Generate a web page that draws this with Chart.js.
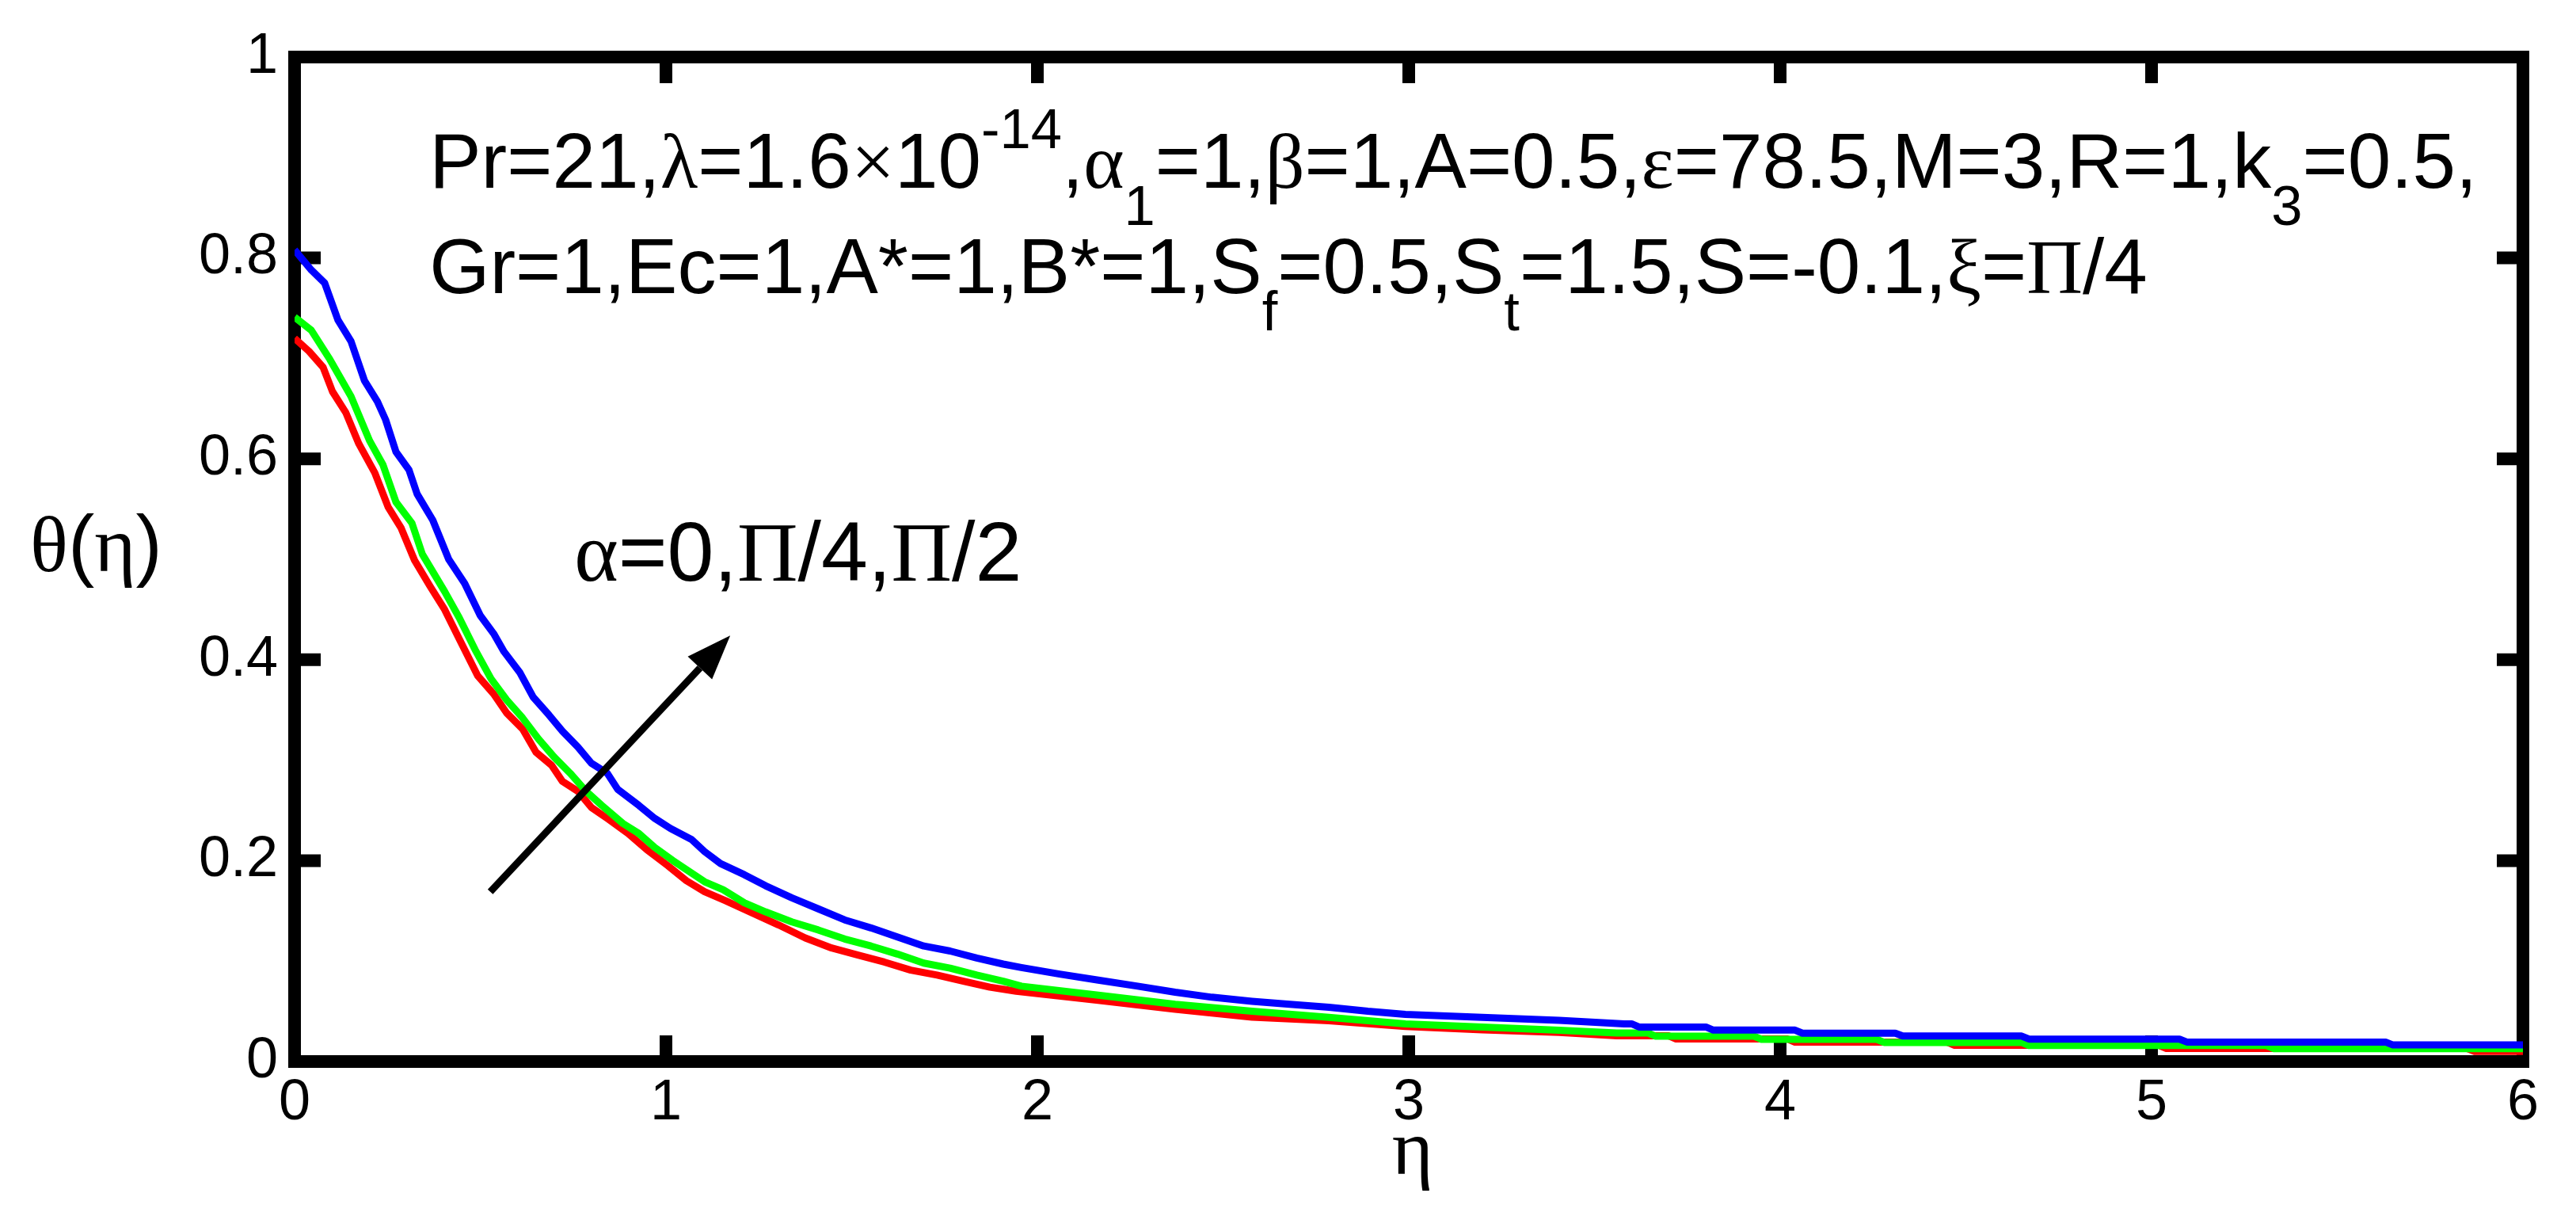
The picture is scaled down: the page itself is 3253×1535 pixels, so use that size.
<!DOCTYPE html>
<html>
<head>
<meta charset="utf-8">
<title>θ(η) profiles for α = 0, Π/4, Π/2</title>
<script src="https://cdn.jsdelivr.net/npm/chart.js@4.4.1/dist/chart.umd.min.js"></script>
<style>
  html, body { margin: 0; padding: 0; background: #fff; }
  #wrap { width: 3253px; height: 1535px; }
</style>
</head>
<body>
<div id="wrap"><canvas id="thetaCanvas" width="3253" height="1535"></canvas></div>

<script>
// ---- tick labels ----
const xTicks = ["0", "1", "2", "3", "4", "5", "6"];
const yTicks = ["0", "0.2", "0.4", "0.6", "0.8", "1"];

// ---- α = Π/2 (blue) ----
const etaBlue = [
  0, 0.045, 0.081, 0.117, 0.152, 0.188, 0.223, 0.245, 0.273, 0.308,
  0.33, 0.372, 0.415, 0.458, 0.5, 0.536, 0.564, 0.607, 0.642, 0.685,
  0.721, 0.763, 0.799, 0.842, 0.87, 0.927, 0.97, 1.012, 1.069, 1.104,
  1.147, 1.211, 1.268, 1.339, 1.41, 1.481, 1.552, 1.623, 1.694, 1.765,
  1.837, 1.908, 1.957, 2.06, 2.164, 2.27, 2.371, 2.47, 2.578, 2.68,
  2.785, 2.89, 2.991, 3.198, 3.405, 3.58, 3.60, 3.62, 3.80, 3.82,
  4.04, 4.06, 4.31, 4.33, 4.65, 4.67, 5.075, 5.095, 5.63, 5.65,
  6
];
const thetaBlue = [
  0.808, 0.788, 0.775, 0.738, 0.717, 0.678, 0.657, 0.639, 0.607, 0.589,
  0.565, 0.539, 0.500, 0.476, 0.444, 0.426, 0.408, 0.387, 0.363, 0.345,
  0.329, 0.313, 0.297, 0.287, 0.271, 0.255, 0.242, 0.232, 0.221, 0.209,
  0.197, 0.186, 0.175, 0.163, 0.152, 0.141, 0.133, 0.124, 0.115, 0.110,
  0.103, 0.097, 0.0935, 0.087, 0.081, 0.075, 0.069, 0.064, 0.060, 0.057,
  0.054, 0.050, 0.047, 0.044, 0.041, 0.0375, 0.0375, 0.0344, 0.0344, 0.0313,
  0.0313, 0.0282, 0.0282, 0.0254, 0.0254, 0.0223, 0.0223, 0.0194, 0.0194, 0.0165,
  0.0165
];

// ---- α = Π/4 (green) ----
const etaGreen = [
  0, 0.045, 0.095, 0.152, 0.202, 0.238, 0.273, 0.316, 0.344, 0.404,
  0.443, 0.486, 0.529, 0.571, 0.614, 0.657, 0.699, 0.742, 0.785, 0.827,
  0.884, 0.927, 0.97, 1.019, 1.055, 1.104, 1.154, 1.211, 1.268, 1.339,
  1.41, 1.481, 1.552, 1.623, 1.694, 1.765, 1.837, 1.908, 1.957, 2.164,
  2.371, 2.578, 2.785, 2.991, 3.198, 3.405, 3.56, 3.645, 3.665, 3.93,
  3.95, 4.26, 4.28, 4.65, 4.67, 5.31, 5.33, 6
];
const thetaGreen = [
  0.741, 0.728, 0.699, 0.662, 0.618, 0.594, 0.557, 0.536, 0.505, 0.468,
  0.442, 0.410, 0.381, 0.360, 0.342, 0.321, 0.303, 0.287, 0.269, 0.255,
  0.237, 0.227, 0.213, 0.200, 0.191, 0.179, 0.171, 0.158, 0.149, 0.139,
  0.131, 0.122, 0.115, 0.107, 0.098, 0.093, 0.086, 0.080, 0.075, 0.066,
  0.057, 0.050, 0.044, 0.0375, 0.0344, 0.0312, 0.0283, 0.0283, 0.0252, 0.0252,
  0.0221, 0.0221, 0.0190, 0.0190, 0.0159, 0.0159, 0.0128, 0.0128
];

// ---- α = 0 (red) ----
const etaRed = [
  0, 0.039, 0.077, 0.102, 0.138, 0.173, 0.216, 0.252, 0.287, 0.323,
  0.365, 0.404, 0.443, 0.493, 0.536, 0.571, 0.614, 0.65, 0.692, 0.721,
  0.763, 0.799, 0.842, 0.898, 0.948, 1.005, 1.055, 1.104, 1.161, 1.232,
  1.303, 1.375, 1.446, 1.517, 1.588, 1.659, 1.73, 1.801, 1.872, 1.943,
  2.164, 2.371, 2.578, 2.785, 2.991, 3.198, 3.405, 3.56, 3.70, 3.72,
  4.02, 4.04, 4.45, 4.47, 5.02, 5.04, 5.85, 5.87, 6
];
const thetaRed = [
  0.720, 0.707, 0.691, 0.667, 0.646, 0.615, 0.586, 0.552, 0.531, 0.499,
  0.473, 0.450, 0.421, 0.384, 0.366, 0.347, 0.331, 0.308, 0.295, 0.279,
  0.269, 0.253, 0.242, 0.227, 0.211, 0.195, 0.180, 0.169, 0.160, 0.148,
  0.136, 0.123, 0.113, 0.106, 0.099, 0.091, 0.086, 0.080, 0.074, 0.070,
  0.061, 0.052, 0.0441, 0.0407, 0.0349, 0.0315, 0.0289, 0.0256, 0.0256, 0.0224,
  0.0224, 0.0193, 0.0193, 0.0161, 0.0161, 0.0130, 0.0130, 0.0100, 0.0100
];

const SANS = '"Liberation Sans", Arial, Helvetica, sans-serif';
const SERIF = '"Liberation Serif", "Times New Roman", serif';

// parameter text, split into [text, kind] pieces (g = greek / symbol font)
const paramLine1 = [
  ["Pr=21,"], ["λ", "g"], ["=1.6"], ["×", "g"], ["10"], ["-14", "sup"], [","],
  ["α", "g"], ["1", "sub"], ["=1,"], ["β", "g"], ["=1,A=0.5,"], ["ε", "g"],
  ["=78.5,M=3,R=1,k"], ["3", "sub"], ["=0.5,"]
];
const paramLine2 = [
  ["Gr=1,Ec=1,A*=1,B*=1,S"], ["f", "sub"], ["=0.5,S"], ["t", "sub"],
  ["=1.5,S=-0.1,"], ["ξ", "g"], ["="], ["Π", "g"], ["/4"]
];
const alphaLabel = [["α", "g"], ["=0,"], ["Π", "g"], ["/4,"], ["Π", "g"], ["/2"]];

function toPoints(xs, ys) {
  return xs.map((v, i) => ({ x: v, y: ys[i] }));
}

function drawRich(ctx, x, y, parts, size) {
  ctx.textAlign = "left";
  ctx.textBaseline = "alphabetic";
  for (const [txt, kind] of parts) {
    let s = size, dy = 0, fam = SANS;
    if (kind === "g") fam = SERIF;
    if (kind === "sup") { s = size * 0.72; dy = -size * 0.51; }
    if (kind === "sub") { s = size * 0.72; dy = size * 0.48; }
    ctx.font = `${s}px ${fam}`;
    ctx.fillText(txt, x, y + dy);
    x += ctx.measureText(txt).width;
  }
}

function seg(ctx, x0, y0, x1, y1) {
  ctx.beginPath();
  ctx.moveTo(x0, y0);
  ctx.lineTo(x1, y1);
  ctx.stroke();
}

// MATLAB style box with inward ticks on all four sides
const boxPlugin = {
  id: "box",
  beforeDraw(chart) {
    const { ctx } = chart;
    ctx.save();
    ctx.fillStyle = "#fff";
    ctx.fillRect(0, 0, chart.width, chart.height);
    ctx.restore();
  },
  beforeDatasetsDraw(chart) {
    const { ctx, chartArea: a, scales } = chart;
    const tickLen = 33;
    ctx.save();
    ctx.strokeStyle = "#000";
    ctx.lineWidth = 16;
    ctx.lineJoin = "miter";
    ctx.strokeRect(a.left, a.top, a.right - a.left, a.bottom - a.top);
    scales.x.ticks.forEach(t => {
      const px = scales.x.getPixelForValue(t.value);
      seg(ctx, px, a.bottom, px, a.bottom - tickLen);
      seg(ctx, px, a.top, px, a.top + tickLen);
    });
    scales.y.ticks.forEach(t => {
      const py = scales.y.getPixelForValue(t.value);
      seg(ctx, a.left, py, a.left + tickLen, py);
      seg(ctx, a.right, py, a.right - tickLen, py);
    });
    ctx.restore();
  },
  afterDraw(chart) {
    const { ctx, chartArea: a, scales: { x, y } } = chart;
    ctx.save();
    ctx.fillStyle = "#000";
    ctx.strokeStyle = "#000";

    // parameter block
    drawRich(ctx, x.getPixelForValue(0.363), y.getPixelForValue(0.87), paramLine1, 98);
    drawRich(ctx, x.getPixelForValue(0.363), y.getPixelForValue(0.765), paramLine2, 98);

    // α label + arrow
    drawRich(ctx, x.getPixelForValue(0.753), y.getPixelForValue(0.479), alphaLabel, 106);
    const x0 = x.getPixelForValue(0.527), y0 = y.getPixelForValue(0.169);
    const x1 = x.getPixelForValue(1.173), y1 = y.getPixelForValue(0.424);
    const ang = Math.atan2(y1 - y0, x1 - x0);
    const headLen = 56, headHalf = 21;
    const bx = x1 - headLen * Math.cos(ang), by = y1 - headLen * Math.sin(ang);
    ctx.lineWidth = 9;
    seg(ctx, x0, y0, bx, by);
    ctx.beginPath();
    ctx.moveTo(x1, y1);
    ctx.lineTo(bx + headHalf * Math.sin(ang), by - headHalf * Math.cos(ang));
    ctx.lineTo(bx - headHalf * Math.sin(ang), by + headHalf * Math.cos(ang));
    ctx.closePath();
    ctx.fill();

    // axis titles
    drawRich(ctx, a.left - 334, (a.top + a.bottom) / 2 + 15, [["θ", "g"], ["("], ["η", "g"], [")"]], 100);
    ctx.font = `100px ${SERIF}`;
    ctx.textAlign = "center";
    ctx.textBaseline = "alphabetic";
    ctx.fillText("η", (a.left + a.right) / 2 + 5, a.bottom + 142);
    ctx.restore();
  }
};

const lineStyle = { borderWidth: 9, pointRadius: 0, fill: false, tension: 0, borderJoinStyle: "round" };

new Chart(document.getElementById("thetaCanvas"), {
  type: "line",
  data: {
    datasets: [
      { label: "α = Π/2", data: toPoints(etaBlue, thetaBlue), borderColor: "#0000ff", ...lineStyle },
      { label: "α = Π/4", data: toPoints(etaGreen, thetaGreen), borderColor: "#00ff00", ...lineStyle },
      { label: "α = 0", data: toPoints(etaRed, thetaRed), borderColor: "#ff0000", ...lineStyle }
    ]
  },
  options: {
    responsive: false,
    animation: false,
    devicePixelRatio: 1,
    layout: { padding: { left: 0, top: 72, right: 67, bottom: 0 } },
    plugins: { legend: { display: false }, tooltip: { enabled: false } },
    scales: {
      x: {
        type: "linear",
        min: 0,
        max: 6,
        grid: { display: false, drawTicks: false },
        border: { display: false },
        ticks: {
          stepSize: 1,
          padding: 10,
          color: "#000",
          font: { family: SANS, size: 72 },
          maxRotation: 0,
          callback: v => xTicks[Math.round(v)]
        },
        afterFit(scale) { scale.height = 195; }
      },
      y: {
        type: "linear",
        min: 0,
        max: 1,
        grid: { display: false, drawTicks: false },
        border: { display: false },
        ticks: {
          stepSize: 0.2,
          padding: 21,
          color: "#000",
          font: { family: SANS, size: 72 },
          callback: v => yTicks[Math.round(v * 5)]
        },
        afterFit(scale) { scale.width = 372; }
      }
    }
  },
  plugins: [boxPlugin]
});
</script>
</body>
</html>
